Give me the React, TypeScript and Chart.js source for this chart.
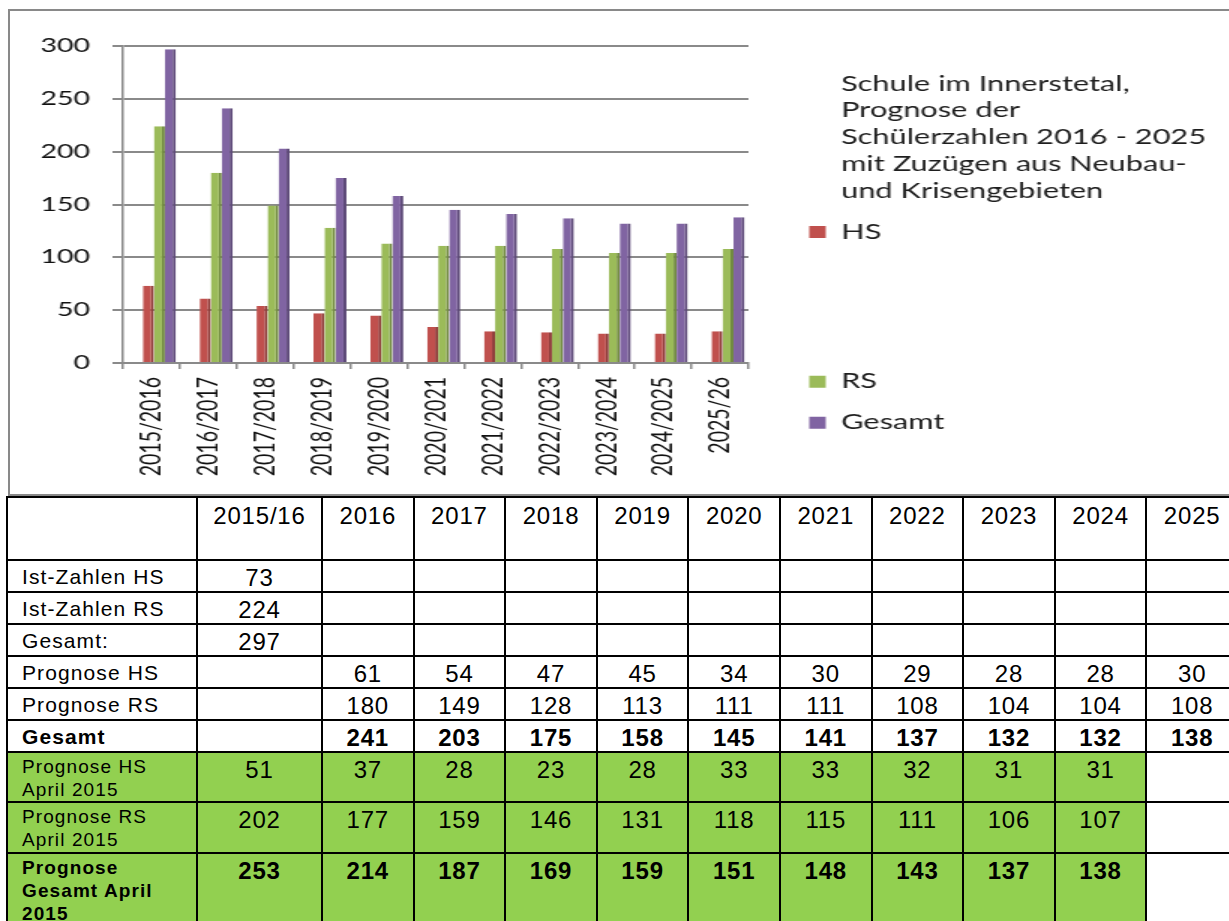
import React, { useEffect, useRef } from 'react';
import { Chart, registerables } from 'chart.js';

Chart.register(...registerables);

// ---------- chart data ----------
const categories = [
  '2015/2016', '2016/2017', '2017/2018', '2018/2019', '2019/2020', '2020/2021',
  '2021/2022', '2022/2023', '2023/2024', '2024/2025', '2025/26',
];
const hsValues = [73, 61, 54, 47, 45, 34, 30, 29, 28, 28, 30];
const rsValues = [224, 180, 149, 128, 113, 111, 111, 108, 104, 104, 108];
const gesamtValues = [297, 241, 203, 175, 158, 145, 141, 137, 132, 132, 138];
const seriesNames = ['HS', 'RS', 'Gesamt'];
const yTicks = [0, 50, 100, 150, 200, 250, 300];
const legendTitleLines = [
  'Schule im Innerstetal,',
  'Prognose der',
  'Schülerzahlen 2016 - 2025',
  'mit Zuzügen aus Neubau-',
  'und Krisengebieten',
];

// ---------- table data ----------
const tableYears = ['2015/16', '2016', '2017', '2018', '2019', '2020', '2021', '2022', '2023', '2024', '2025'];
const rowLabels = [
  'Ist-Zahlen HS',
  'Ist-Zahlen RS',
  'Gesamt:',
  'Prognose HS',
  'Prognose RS',
  'Gesamt',
  'Prognose HS\nApril 2015',
  'Prognose RS\nApril 2015',
  'Prognose\nGesamt April\n2015',
];
const istHS = [73, null, null, null, null, null, null, null, null, null, null];
const istRS = [224, null, null, null, null, null, null, null, null, null, null];
const istGesamt = [297, null, null, null, null, null, null, null, null, null, null];
const progHS = [null, 61, 54, 47, 45, 34, 30, 29, 28, 28, 30];
const progRS = [null, 180, 149, 128, 113, 111, 111, 108, 104, 104, 108];
const progGesamt = [null, 241, 203, 175, 158, 145, 141, 137, 132, 132, 138];
const aprilHS = [51, 37, 28, 23, 28, 33, 33, 32, 31, 31, null];
const aprilRS = [202, 177, 159, 146, 131, 118, 115, 111, 106, 107, null];
const aprilGesamt = [253, 214, 187, 169, 159, 151, 148, 143, 137, 138, null];

const COLORS = ['#C0504D', '#9BBB59', '#8064A2'];
const SIDE_COLORS = ['#8E3B39', '#718A40', '#5D4978'];
const GRID = '#8a8a8a';
const STRETCH = 1.5;
const CANVAS_W = 820;
const CANVAS_H = 490;

const LEGEND_FONT_SIZE = 20.5;
const LEGEND_PAD = 14.25;
const LEGEND_BOX_W = 11;
const LEGEND_LEFT = 525.25;

const depthShift = {
  id: 'depthShift',
  afterDatasetsUpdate(chart: any) {
    chart.data.datasets.forEach((_: any, i: number) => {
      chart.getDatasetMeta(i).data.forEach((el: any) => {
        el.x += 5.3;
      });
    });
  },
};

export default function App() {
  const ref = useRef<HTMLCanvasElement>(null);

  useEffect(() => {
    let chart: Chart | null = null;
    let cancelled = false;
    const fonts: any = (document as any).fonts;
    const ready = fonts
      ? Promise.all([
          fonts.load('20px Lato'),
          fonts.load('24px "Liberation Sans"'),
          fonts.load('bold 24px "Liberation Sans"'),
        ]).catch(() => null)
      : Promise.resolve(null);

    ready.then(() => {
      if (cancelled || !ref.current) return;

      // natural legend width -> right padding so the legend starts where the reference has it
      const mctx = document.createElement('canvas').getContext('2d') as CanvasRenderingContext2D;
      mctx.font = `${LEGEND_FONT_SIZE}px Lato`;
      const longest = legendTitleLines.reduce((a, b) => (a.length > b.length ? a : b));
      const tw = mctx.measureText(longest).width;
      const legendW = LEGEND_PAD + LEGEND_BOX_W + LEGEND_FONT_SIZE / 2 + tw + 10;
      const padRight = Math.max(0, CANVAS_W - LEGEND_LEFT - legendW);

      const series = [hsValues, rsValues, gesamtValues];
      chart = new Chart(ref.current, {
        type: 'bar',
        data: {
          labels: categories,
          datasets: series.map((vals, i) => ({
            label: seriesNames[i],
            data: vals,
            backgroundColor: COLORS[i],
            borderColor: SIDE_COLORS[i],
            borderWidth: { top: 0, right: 2, bottom: 0, left: 0 },
            categoryPercentage: 0.58,
            barPercentage: 1,
          })),
        },
        plugins: [depthShift],
        options: {
          responsive: false,
          animation: false,
          devicePixelRatio: 1,
          layout: { padding: { left: 0, top: 46, right: padRight, bottom: 0 } },
          plugins: {
            tooltip: { enabled: false },
            title: { display: false },
            legend: {
              display: true,
              position: 'right',
              align: 'start',
              maxWidth: 2000,
              title: {
                display: true,
                text: '',
                padding: { top: 12.5, bottom: 0 },
                font: { size: 1, lineHeight: 1 },
              },
              labels: {
                boxWidth: LEGEND_BOX_W,
                boxHeight: 12,
                padding: LEGEND_PAD,
                color: '#1e1e1e',
                textAlign: 'left',
                font: { family: 'Lato', size: LEGEND_FONT_SIZE, lineHeight: '26.75px' },
                generateLabels: (c: any) => {
                  const ds = c.data.datasets;
                  const blank = 'rgba(0,0,0,0)';
                  const item = (text: string[], color: string, idx?: number) => ({
                    text,
                    fillStyle: color,
                    strokeStyle: color,
                    lineWidth: 0,
                    hidden: false,
                    fontColor: '#1e1e1e',
                    textAlign: 'left',
                    datasetIndex: idx,
                  });
                  return [
                    item(legendTitleLines, blank),
                    item([ds[0].label], ds[0].backgroundColor, 0),
                    item(['', ''], blank),
                    item([''], blank),
                    item([ds[1].label], ds[1].backgroundColor, 1),
                    item([ds[2].label], ds[2].backgroundColor, 2),
                  ] as any;
                },
              },
            },
          },
          scales: {
            x: {
              type: 'category',
              grid: {
                drawOnChartArea: false,
                drawTicks: true,
                tickLength: 6,
                color: GRID,
                lineWidth: 1.5,
                offset: true,
              },
              border: { display: true, color: GRID, width: 2 },
              ticks: {
                font: { family: 'Lato', size: 19.5 },
                color: '#111',
                minRotation: 90,
                maxRotation: 90,
                autoSkip: false,
                padding: 8,
              },
              afterFit: (s: any) => {
                s.height = 127;
              },
            },
            y: {
              min: yTicks[0],
              max: yTicks[yTicks.length - 1],
              grid: { color: GRID, lineWidth: 2, drawTicks: true, tickLength: 7 },
              border: { display: true, color: GRID, width: 1.5 },
              ticks: {
                stepSize: yTicks[1] - yTicks[0],
                font: { family: 'Lato', size: 19 },
                color: '#111',
                padding: 15,
              },
              afterFit: (s: any) => {
                s.width = 82;
              },
            },
            gap: {
              type: 'linear',
              position: 'right',
              display: true,
              grid: { display: false, drawTicks: false },
              border: { display: false },
              ticks: { display: false },
              afterFit: (s: any) => {
                s.width = 26.25;
              },
            },
          },
        } as any,
      });
    });

    return () => {
      cancelled = true;
      if (chart) chart.destroy();
    };
  }, []);

  const rowValues = [istHS, istRS, istGesamt, progHS, progRS, progGesamt, aprilHS, aprilRS, aprilGesamt];
  const boldRows = [5, 8];
  const greenRows = [6, 7, 8];
  const GREEN = '#92D050';

  const cellBase: React.CSSProperties = {
    boxSizing: 'border-box',
    borderRight: '2px solid #000',
    borderBottom: '2px solid #000',
    overflow: 'hidden',
  };

  return (
    <div
      style={{
        position: 'absolute',
        left: 0,
        top: 0,
        width: 1229,
        height: 921,
        overflow: 'hidden',
        background: '#fff',
      }}
    >
      <div
        style={{
          position: 'absolute',
          left: 8,
          top: 9,
          width: 1260,
          height: 487,
          boxSizing: 'border-box',
          border: '2px solid #898989',
        }}
      />
      <canvas
        ref={ref}
        width={CANVAS_W}
        height={CANVAS_H}
        style={{
          position: 'absolute',
          left: 0,
          top: 0,
          transform: `scaleX(${STRETCH})`,
          transformOrigin: '0 0',
          display: 'block',
        }}
      />
      <div
        style={{
          position: 'absolute',
          left: 6,
          top: 496,
          display: 'grid',
          gridTemplateColumns: '190px 125px repeat(10, 91.6px)',
          gridTemplateRows: '63px 32px 32px 32px 32px 32px 32px 50px 51px 80px',
          borderTop: '2px solid #000',
          borderLeft: '2px solid #000',
          fontFamily: '"Liberation Sans", Arial, sans-serif',
          color: '#000',
        }}
      >
        <div style={cellBase} />
        {tableYears.map((y) => (
          <div
            key={'h' + y}
            style={{
              ...cellBase,
              fontSize: 24,
              letterSpacing: 0.8,
              lineHeight: '27px',
              textAlign: 'center',
              paddingTop: 4,
            }}
          >
            {y}
          </div>
        ))}
        {rowLabels.map((label, r) => {
          const green = greenRows.includes(r);
          const bold = boldRows.includes(r);
          return (
            <React.Fragment key={'r' + r}>
              <div
                style={{
                  ...cellBase,
                  background: green ? GREEN : '#fff',
                  fontSize: green ? 19 : 21,
                  lineHeight: green ? '23px' : '27px',
                  letterSpacing: 1.1,
                  fontWeight: bold ? 700 : 400,
                  paddingLeft: 14,
                  paddingTop: green ? 1.5 : 2,
                  whiteSpace: 'pre-line',
                }}
              >
                {label}
              </div>
              {rowValues[r].map((v, c) => (
                <div
                  key={'c' + r + '-' + c}
                  style={{
                    ...cellBase,
                    background: green && c < tableYears.length - 1 ? GREEN : '#fff',
                    fontSize: 24,
                    letterSpacing: 0.8,
                    lineHeight: '27px',
                    textAlign: 'center',
                    fontWeight: bold ? 700 : 400,
                    paddingTop: 2.5,
                  }}
                >
                  {v === null ? '' : String(v)}
                </div>
              ))}
            </React.Fragment>
          );
        })}
      </div>
    </div>
  );
}
